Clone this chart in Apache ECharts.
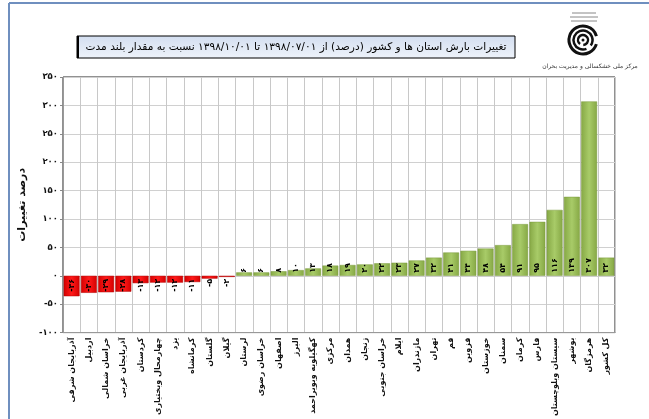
<!DOCTYPE html>
<html>
<head>
<meta charset="utf-8">
<script src="https://cdn.jsdelivr.net/npm/echarts@6/dist/echarts.min.js"></script>
<style>
  html, body { margin: 0; padding: 0; background: #fff; }
  #chart { width: 649px; height: 419px; }
</style>
</head>
<body>
<div id="chart"></div>
<script>
// استان ها به ترتیب نمودار
const categories = [
  'آذربایجان شرقی', 'اردبیل', 'خراسان شمالی', 'آذربایجان غربی', 'کردستان',
  'چهارمحال وبختیاری', 'یزد', 'کرمانشاه', 'گلستان', 'گیلان', 'لرستان',
  'خراسان رضوی', 'اصفهان', 'البرز', 'کهگیلویه وبویراحمد', 'مرکزی', 'همدان',
  'زنجان', 'خراسان جنوبی', 'ایلام', 'مازندران', 'تهران', 'قم', 'قزوین',
  'خوزستان', 'سمنان', 'کرمان', 'فارس', 'سیستان وبلوچستان', 'بوشهر',
  'هرمزگان', 'کل کشور'
]

// درصد تغییرات بارش
const changes = [
  -36, -30, -29, -28, -13, -12, -12, -11, -5, -2, 6,
  6, 8, 10, 13, 18, 19,
  20, 22, 23, 27, 32, 41, 44,
  48, 54, 91, 95, 116, 139,
  307, 32
]

const persianDigits = ['۰', '۱', '۲', '۳', '۴', '۵', '۶', '۷', '۸', '۹']

const titleText = 'تغییرات بارش استان ها و کشور (درصد) از ۱۳۹۸/۰۷/۰۱ تا ۱۳۹۸/۱۰/۰۱ نسبت به مقدار بلند مدت'
const yName = 'درصد تغییرات'
const centerName = 'مرکز ملی خشکسالی و مدیریت بحران'

// عدد به ارقام فارسی
const toFa = (n) => {
  const s = String(Math.abs(n)).replace(/\d/g, d => persianDigits[d])
  return n < 0 ? '-' + s : s
}

const font = 'DejaVu Sans'

const barGradient = (edge, mid) => ({
  type: 'linear', x: 0, y: 0, x2: 1, y2: 0,
  colorStops: [
    { offset: 0, color: edge },
    { offset: 0.5, color: mid },
    { offset: 1, color: edge }
  ]
})

const chart = echarts.init(document.getElementById('chart'))

chart.setOption({
  backgroundColor: '#fff',
  animation: false,
  grid: {
    left: 63,
    right: 34,
    top: 77,
    bottom: 82,
    show: true,
    borderColor: '#222',
    borderWidth: 1
  },
  xAxis: {
    type: 'category',
    data: categories,
    axisLine: { onZero: false, lineStyle: { color: '#999' } },
    axisTick: { show: false },
    splitLine: { show: true, interval: 0, lineStyle: { color: '#c8c8c8' } },
    axisLabel: {
      interval: 0,
      rotate: 90,
      margin: 5,
      fontFamily: font,
      fontSize: 8,
      fontWeight: 'bold',
      color: '#111'
    }
  },
  yAxis: {
    type: 'value',
    min: -100,
    max: 350,
    interval: 50,
    name: yName,
    nameLocation: 'middle',
    nameGap: 30,
    nameTextStyle: { fontFamily: font, fontSize: 11, fontWeight: 'bold', color: '#111' },
    axisLine: { show: true, lineStyle: { color: '#999' } },
    axisTick: { show: true, length: 3, lineStyle: { color: '#888' } },
    splitLine: { lineStyle: { color: '#d0d0d0' } },
    axisLabel: {
      fontFamily: font,
      fontSize: 8.5,
      fontWeight: 'bold',
      color: '#111',
      margin: 5,
      formatter: v => toFa(v)
    }
  },
  series: [{
    type: 'bar',
    barCategoryGap: '8%',
    data: changes.map(v => ({
      value: v,
      itemStyle: {
        color: v < 0 ? barGradient('#d40000', '#ff1a1a') : barGradient('#86a845', '#a8cb68'),
        borderColor: v < 0 ? '#b00000' : '#7a9a3c',
        borderWidth: 0.5
      },
      label: v < 0
        ? { position: 'insideTop', align: 'right' }
        : { position: 'insideBottom', align: 'left' }
    })),
    label: {
      show: true,
      rotate: 90,
      verticalAlign: 'middle',
      distance: 3,
      fontFamily: font,
      fontSize: 8,
      fontWeight: 'bold',
      color: '#000',
      formatter: p => toFa(p.value)
    }
  }],
  graphic: [
    // کادر صفحه
    { type: 'line', shape: { x1: 9, y1: 3, x2: 649, y2: 3 }, style: { stroke: '#6f8fbf', lineWidth: 2 } },
    { type: 'line', shape: { x1: 9, y1: 3, x2: 9, y2: 419 }, style: { stroke: '#6f8fbf', lineWidth: 2 } },
    // عنوان
    {
      type: 'rect',
      shape: { x: 77, y: 36, width: 438, height: 22 },
      style: {
        fill: {
          type: 'linear', x: 0, y: 0, x2: 0, y2: 1,
          colorStops: [{ offset: 0, color: '#d3def0' }, { offset: 1, color: '#eef3fa' }]
        },
        stroke: '#000',
        lineWidth: 1
      }
    },
    { type: 'line', shape: { x1: 78, y1: 36, x2: 78, y2: 58 }, style: { stroke: '#000', lineWidth: 2 } },
    {
      type: 'text',
      x: 296, y: 47,
      style: {
        text: titleText,
        fontFamily: font,
        fontSize: 10.6,
        fill: '#000',
        align: 'center',
        verticalAlign: 'middle'
      }
    },
    // لوگو
    { type: 'arc', shape: { cx: 583, cy: 40, r: 14, startAngle: 0.3, endAngle: 6.0 }, style: { stroke: '#111', lineWidth: 3, fill: null } },
    { type: 'arc', shape: { cx: 583, cy: 40, r: 9.5, startAngle: 1.2, endAngle: 6.9 }, style: { stroke: '#111', lineWidth: 2.5, fill: null } },
    { type: 'arc', shape: { cx: 583, cy: 40, r: 5, startAngle: 2.2, endAngle: 7.8 }, style: { stroke: '#111', lineWidth: 2.5, fill: null } },
    { type: 'circle', shape: { cx: 583, cy: 40, r: 1.5 }, style: { fill: '#111' } },
    { type: 'line', shape: { x1: 572, y1: 13, x2: 596, y2: 13 }, style: { stroke: '#888', lineWidth: 1 } },
    { type: 'line', shape: { x1: 570, y1: 17, x2: 598, y2: 17 }, style: { stroke: '#888', lineWidth: 1 } },
    { type: 'line', shape: { x1: 571, y1: 21, x2: 597, y2: 21 }, style: { stroke: '#888', lineWidth: 1 } },
    {
      type: 'text',
      x: 590, y: 66,
      style: {
        text: centerName,
        fontFamily: font,
        fontSize: 6,
        fill: '#333',
        align: 'center',
        verticalAlign: 'middle'
      }
    }
  ]
})
</script>
</body>
</html>
